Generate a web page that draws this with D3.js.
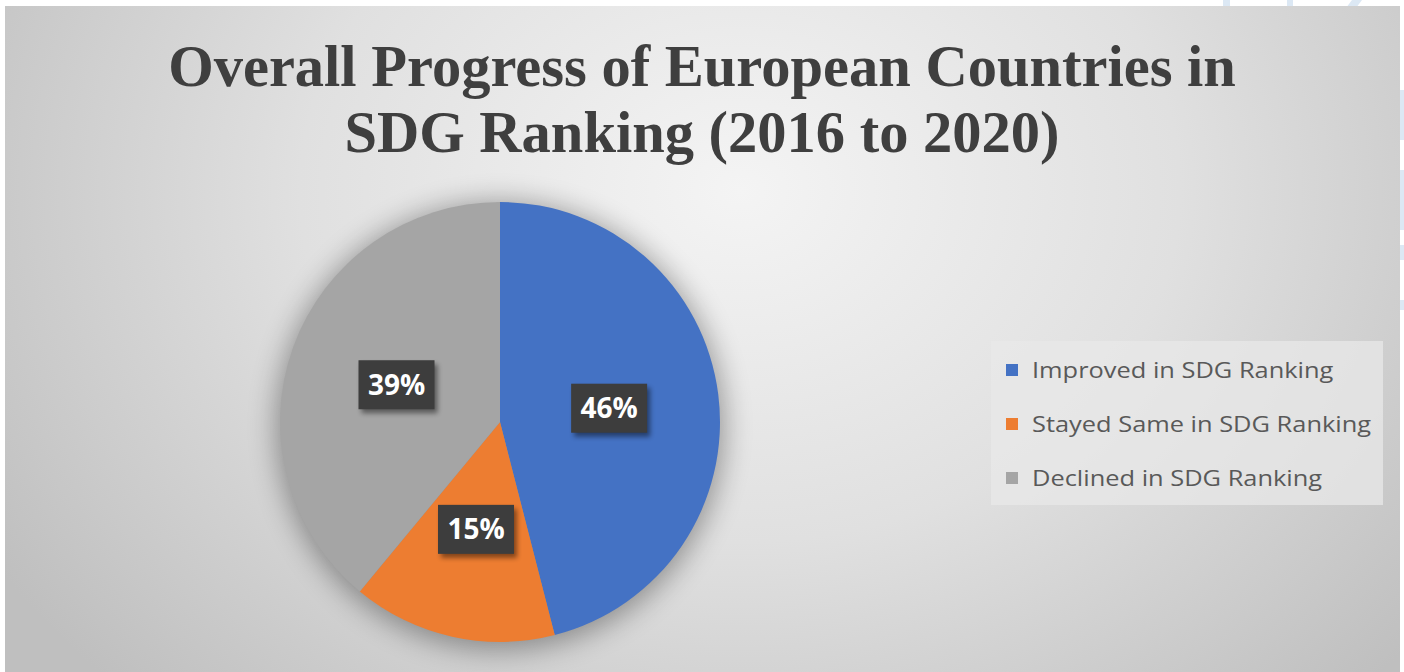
<!DOCTYPE html>
<html><head><meta charset="utf-8">
<script src="https://cdn.jsdelivr.net/npm/d3@7"></script>
<style>html,body{margin:0;padding:0;background:#fff;}svg{display:block;}</style>
</head><body>
<svg id="c" width="1404" height="672"></svg>
<script>
const categories = ["Improved in SDG Ranking", "Stayed Same in SDG Ranking", "Declined in SDG Ranking"];
const values = [46, 15, 39];
const labels = ["46%", "15%", "39%"];
const colors = ["#4472C4", "#ED7D31", "#A5A5A5"];
const titleLines = ["Overall Progress of European Countries in", "SDG Ranking (2016 to 2020)"];

const svg = d3.select("#c");
const defs = svg.append("defs");
const rg = defs.append("radialGradient").attr("id","bg").attr("gradientUnits","userSpaceOnUse")
  .attr("cx",740).attr("cy",190).attr("r",880).attr("gradientTransform","translate(740,190) scale(1,0.8) translate(-740,-190)");
rg.append("stop").attr("offset","0").attr("stop-color","#f4f4f4");
rg.append("stop").attr("offset","0.5").attr("stop-color","#e0e0e0");
rg.append("stop").attr("offset","1").attr("stop-color","#bfbfbf");
const sh = defs.append("filter").attr("id","sh").attr("x","-30%").attr("y","-30%").attr("width","160%").attr("height","160%");
sh.append("feGaussianBlur").attr("stdDeviation",14);
const bsh = defs.append("filter").attr("id","bsh").attr("x","-30%").attr("y","-30%").attr("width","160%").attr("height","160%");
bsh.append("feGaussianBlur").attr("stdDeviation",2.5);

// faint watermark shapes outside chart area
const wm = svg.append("g").attr("fill","#dce8f4");
wm.append("rect").attr("x",1223).attr("y",0).attr("width",7).attr("height",8);
wm.append("rect").attr("x",1287).attr("y",0).attr("width",6).attr("height",8);
wm.append("polygon").attr("points","1352,0 1362,0 1356,8 1346,8");
wm.append("rect").attr("x",1400).attr("y",90).attr("width",4).attr("height",50);
wm.append("rect").attr("x",1400).attr("y",170).attr("width",4).attr("height",60);
wm.append("rect").attr("x",1400).attr("y",245).attr("width",4).attr("height",15);
wm.append("rect").attr("x",1400).attr("y",300).attr("width",4).attr("height",10);

// chart area
svg.append("rect").attr("x",5).attr("y",6).attr("width",1395).attr("height",666).attr("fill","url(#bg)");

// title
svg.append("g").selectAll("text").data(titleLines).join("text")
  .attr("x",702).attr("y",(d,i)=>86+i*66).attr("text-anchor","middle")
  .attr("font-family","'Liberation Serif','Times New Roman',serif").attr("font-weight","bold")
  .attr("font-size",58.5).attr("fill","#3f3f3f").text(d=>d);

// pie
const cx = 500, cy = 422, R = 220;
const pie = d3.pie().sort(null).value(d=>d);
const arcs = pie(values);
const arc = d3.arc().innerRadius(0).outerRadius(R);
const g = svg.append("g").attr("transform",`translate(${cx},${cy})`);
g.append("circle").attr("r",R+4).attr("cy",4).attr("fill","#000").attr("opacity",0.35).attr("filter","url(#sh)");
g.selectAll("path").data(arcs).join("path").attr("d",arc).attr("fill",(d,i)=>colors[i]);

// data labels
const labelArc = d3.arc().innerRadius(R*0.5).outerRadius(R*0.5);
const lg = g.selectAll("g.lab").data(arcs).join("g").attr("class","lab")
  .attr("transform",d=>{const c=labelArc.centroid(d);return `translate(${c[0]},${c[1]})`;});
const bw = 76, bh = 49;
lg.append("rect").attr("x",-bw/2+3).attr("y",-bh/2+4).attr("width",bw).attr("height",bh).attr("fill","#000").attr("opacity",0.45).attr("filter","url(#bsh)");
lg.append("rect").attr("x",-bw/2).attr("y",-bh/2).attr("width",bw).attr("height",bh).attr("fill","#3d3d3d");
lg.append("text").attr("text-anchor","middle").attr("dy","0.36em")
  .attr("font-family","'Open Sans',sans-serif").attr("font-weight","bold").attr("font-size",28)
  .attr("fill","#fff").text((d,i)=>labels[i]);

// legend
svg.append("rect").attr("x",991).attr("y",341).attr("width",392).attr("height",164).attr("fill","#e8e8e8").attr("opacity",0.75);
const leg = svg.append("g").selectAll("g").data(categories).join("g")
  .attr("transform",(d,i)=>`translate(1006,${370+i*54})`);
leg.append("rect").attr("x",0).attr("y",-6).attr("width",12).attr("height",12).attr("fill",(d,i)=>colors[i]);
leg.append("text").attr("transform","translate(26,0) scale(1.21,1)").attr("dy","0.36em")
  .attr("font-family","'Open Sans',sans-serif").attr("font-size",21).attr("fill","#595959").text(d=>d);
</script>
</body></html>
